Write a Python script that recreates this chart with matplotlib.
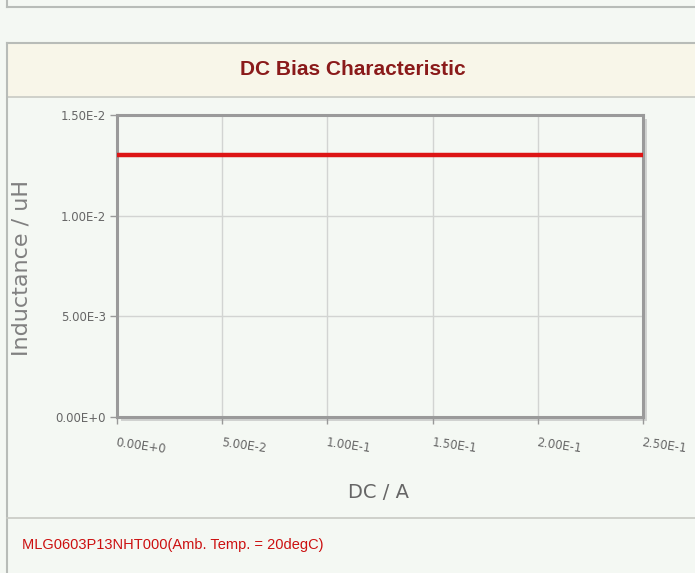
import matplotlib.pyplot as plt
import matplotlib.patches as patches
from matplotlib.lines import Line2D

# ------------------ Data ------------------ #
dc_current = [0.0, 0.05, 0.10, 0.15, 0.20, 0.25]          # A
inductance = [0.013, 0.013, 0.013, 0.013, 0.013, 0.013]   # uH

x_ticks = [0.0, 0.05, 0.10, 0.15, 0.20, 0.25]
x_tick_labels = ["0.00E+0", "5.00E-2", "1.00E-1", "1.50E-1", "2.00E-1", "2.50E-1"]
y_ticks = [0.0, 0.005, 0.010, 0.015]
y_tick_labels = ["0.00E+0", "5.00E-3", "1.00E-2", "1.50E-2"]

title = "DC Bias Characteristic"
footer = "MLG0603P13NHT000(Amb. Temp. = 20degC)"

W, H = 695, 573
bg = "#f4f8f3"


def fx(x):
    return x / W


def fy(y):
    return 1 - y / H


fig = plt.figure(figsize=(W / 100, H / 100), dpi=100)
fig.patch.set_facecolor(bg)

# ------------------ Page frame (boxes) ------------------ #
border = "#b8bcb8"
# top box remnants
fig.add_artist(Line2D([fx(7), 1], [fy(7), fy(7)], color=border, lw=1.5, transform=fig.transFigure))
fig.add_artist(Line2D([fx(7), fx(7)], [1, fy(7)], color=border, lw=1.5, transform=fig.transFigure))

# title band
fig.add_artist(patches.Rectangle((fx(7), fy(97)), 1, fy(43) - fy(97), transform=fig.transFigure,
                                 facecolor="#f8f6e9", edgecolor="none", zorder=0))
fig.add_artist(Line2D([fx(7), 1], [fy(43), fy(43)], color=border, lw=1.5, transform=fig.transFigure))
fig.add_artist(Line2D([fx(7), 1], [fy(97), fy(97)], color="#c8cac4", lw=1.2, transform=fig.transFigure))
fig.add_artist(Line2D([fx(7), fx(7)], [fy(43), 0], color=border, lw=1.5, transform=fig.transFigure))
fig.add_artist(Line2D([fx(7), 1], [fy(518), fy(518)], color="#c8cac4", lw=1.2, transform=fig.transFigure))

fig.text(fx(353), fy(70), title, ha="center", va="center", fontsize=15, fontweight="bold",
         color="#8a1a1a", family="Liberation Sans")
fig.text(fx(22), fy(545), footer, ha="left", va="center", fontsize=10.5, color="#cc1010",
         family="Liberation Sans")

# ------------------ Plot area ------------------ #
left, right, top, bottom = 117, 643, 115, 417
ax = fig.add_axes([fx(left), fy(bottom), fx(right - left), fy(top) - fy(bottom)])
ax.set_facecolor(bg)

# drop shadow behind the axes frame
fig.add_artist(patches.Rectangle((fx(left + 4), fy(bottom + 4)), fx(right - left), fy(top) - fy(bottom),
                                 transform=fig.transFigure, facecolor="#d0d2d0", edgecolor="none",
                                 zorder=0.5))
ax.set_zorder(1)

ax.plot(dc_current, inductance, color="#dd1515", lw=3.2, solid_capstyle="butt", zorder=3)

ax.set_xlim(0, 0.25)
ax.set_ylim(0, 0.015)
ax.set_xticks(x_ticks)
ax.set_xticklabels(x_tick_labels, rotation=-8, ha="left", va="top", fontsize=8.5,
                   color="#666666", rotation_mode="anchor")
ax.set_yticks(y_ticks)
ax.set_yticklabels(y_tick_labels, fontsize=8.5, color="#666666")
ax.tick_params(axis="x", length=5, width=1, color="#999999", pad=9)
ax.tick_params(axis="y", length=5, width=1, color="#999999", pad=3)
ax.grid(True, color="#d2d4d2", lw=1)
ax.set_axisbelow(True)
for s in ax.spines.values():
    s.set_color("#9a9a9a")
    s.set_linewidth(2.2)

fig.text(fx(22), fy(268), "Inductance / uH", rotation=90, ha="center", va="center",
         fontsize=16, color="#808080")
fig.text(fx(379), fy(493), "DC / A", ha="center", va="center", fontsize=14, color="#666666")

fig.savefig("out.png", dpi=100, facecolor=bg)
